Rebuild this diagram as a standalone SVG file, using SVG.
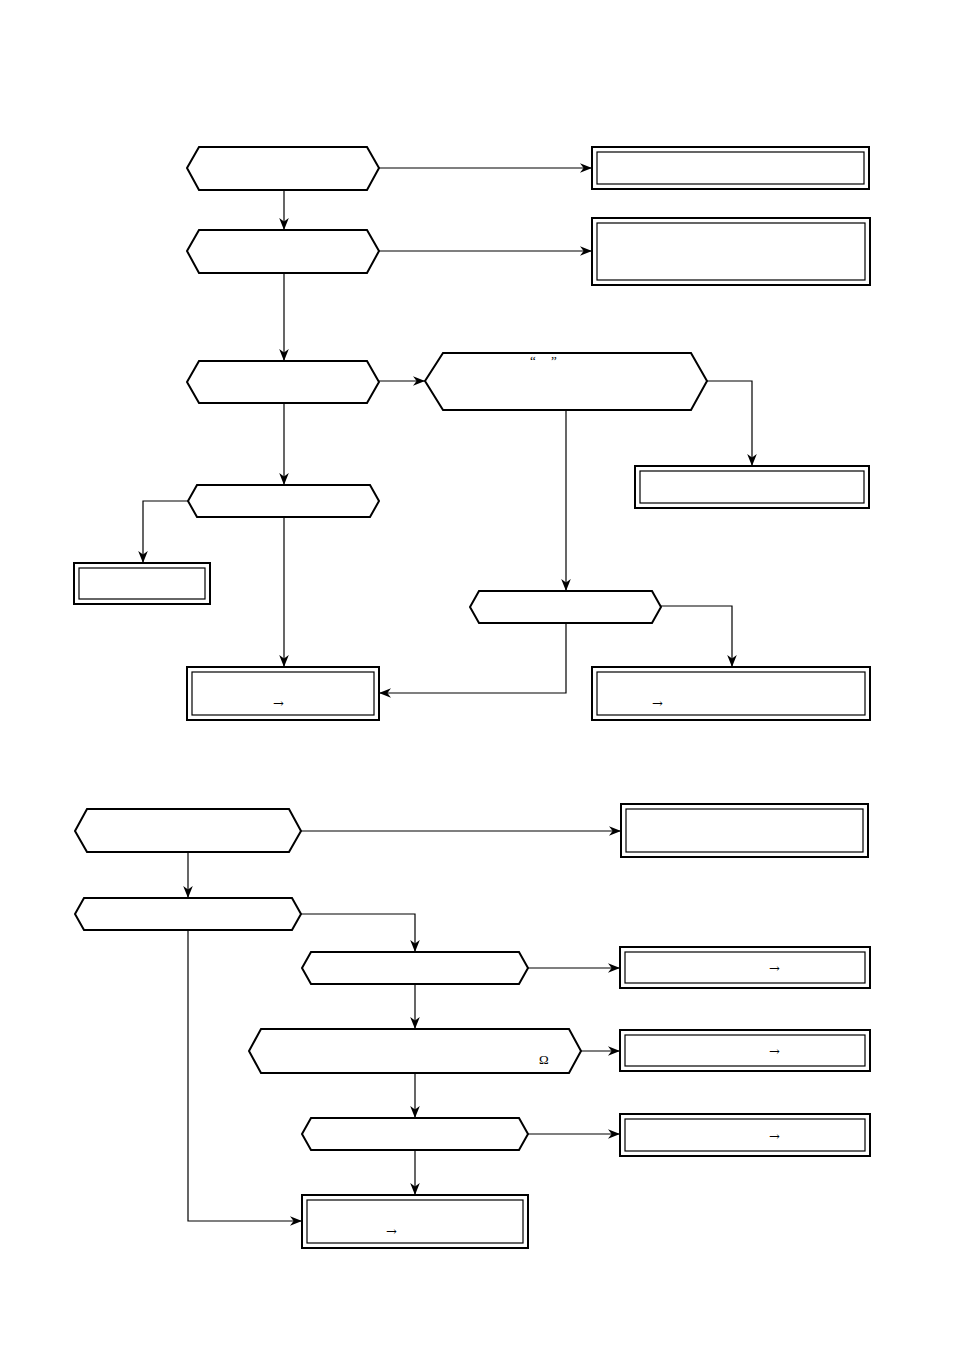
<svg xmlns="http://www.w3.org/2000/svg" width="954" height="1351" viewBox="0 0 954 1351">
<style>
.h{fill:#fff;stroke:#000;stroke-width:2}
.o{fill:#fff;stroke:#000;stroke-width:2}
.i{fill:none;stroke:#000;stroke-width:1.2}
.c{fill:none;stroke:#000;stroke-width:1.2;marker-end:url(#a)}
text{font-family:"Liberation Serif",serif;font-size:13px;fill:#000}
.ar{font-family:"DejaVu Serif",serif;font-size:13px}
</style>
<defs><marker id="a" viewBox="0 0 10 10" refX="10" refY="5" markerWidth="12" markerHeight="12" markerUnits="userSpaceOnUse" orient="auto"><path d="M0,1 L10,5 L0,9 L3,5 Z" fill="#000"/></marker></defs>
<rect width="954" height="1351" fill="#fff"/>
<g id="connectors">
<path class="c" d="M379,168H592"/><path class="c" d="M284,190V230"/>
<path class="c" d="M379,251H592"/><path class="c" d="M284,273V361"/>
<path class="c" d="M379,381H425"/><path class="c" d="M284,403V485"/>
<path class="c" d="M707,381H752V466"/><path class="c" d="M566,410V591"/>
<path class="c" d="M188,501H143V563"/><path class="c" d="M284,517V667"/>
<path class="c" d="M566,623V693H379"/><path class="c" d="M661,606H732V667"/>
<path class="c" d="M301,831H621"/><path class="c" d="M188,852V898"/>
<path class="c" d="M301,914H415V952"/><path class="c" d="M188,930V1221H302"/>
<path class="c" d="M528,968H620"/><path class="c" d="M415,984V1029"/>
<path class="c" d="M581,1051H620"/><path class="c" d="M415,1073V1118"/>
<path class="c" d="M528,1134H620"/><path class="c" d="M415,1150V1195"/>
</g>
<g id="h1"><polygon class="h" points="199,147 367,147 379,168 367,190 199,190 187,168"/></g>
<g id="r1"><rect class="o" x="592" y="147" width="277" height="42"/><rect class="i" x="597" y="152" width="267" height="32"/></g>
<g id="h2"><polygon class="h" points="199,230 367,230 379,251 367,273 199,273 187,251"/></g>
<g id="r2"><rect class="o" x="592" y="218" width="278" height="67"/><rect class="i" x="597" y="223" width="268" height="57"/></g>
<g id="h3"><polygon class="h" points="199,361 367,361 379,382 367,403 199,403 187,382"/></g>
<g id="h4"><polygon class="h" points="443,353 691,353 707,381 691,410 443,410 425,381"/><text x="530" y="365">“</text><text x="551" y="365">”</text></g>
<g id="r3"><rect class="o" x="635" y="466" width="234" height="42"/><rect class="i" x="640" y="471" width="224" height="32"/></g>
<g id="h5"><polygon class="h" points="197,485 370,485 379,501 370,517 197,517 188,501"/></g>
<g id="r4"><rect class="o" x="74" y="563" width="136" height="41"/><rect class="i" x="79" y="568" width="126" height="31"/></g>
<g id="h6"><polygon class="h" points="479,591 652,591 661,607 652,623 479,623 470,607"/></g>
<g id="r5"><rect class="o" x="187" y="667" width="192" height="53"/><rect class="i" x="192" y="672" width="182" height="43"/><text class="ar" x="273" y="708">→</text></g>
<g id="r6"><rect class="o" x="592" y="667" width="278" height="53"/><rect class="i" x="597" y="672" width="268" height="43"/><text class="ar" x="652" y="708">→</text></g>
<g id="h7"><polygon class="h" points="87,809 289,809 301,831 289,852 87,852 75,831"/></g>
<g id="r7"><rect class="o" x="621" y="804" width="247" height="53"/><rect class="i" x="626" y="809" width="237" height="43"/></g>
<g id="h8"><polygon class="h" points="84,898 292,898 301,914 292,930 84,930 75,914"/></g>
<g id="h9"><polygon class="h" points="311,952 519,952 528,968 519,984 311,984 302,968"/></g>
<g id="r8"><rect class="o" x="620" y="947" width="250" height="41"/><rect class="i" x="625" y="952" width="240" height="31"/><text class="ar" x="769" y="973">→</text></g>
<g id="h10"><polygon class="h" points="261,1029 569,1029 581,1051 569,1073 261,1073 249,1051"/><text x="539" y="1064">Ω</text></g>
<g id="r9"><rect class="o" x="620" y="1030" width="250" height="41"/><rect class="i" x="625" y="1035" width="240" height="31"/><text class="ar" x="769" y="1056">→</text></g>
<g id="h11"><polygon class="h" points="311,1118 519,1118 528,1134 519,1150 311,1150 302,1134"/></g>
<g id="r10"><rect class="o" x="620" y="1114" width="250" height="42"/><rect class="i" x="625" y="1119" width="240" height="32"/><text class="ar" x="769" y="1141">→</text></g>
<g id="r11"><rect class="o" x="302" y="1195" width="226" height="53"/><rect class="i" x="307" y="1200" width="216" height="43"/><text class="ar" x="386" y="1236">→</text></g>
</svg>
